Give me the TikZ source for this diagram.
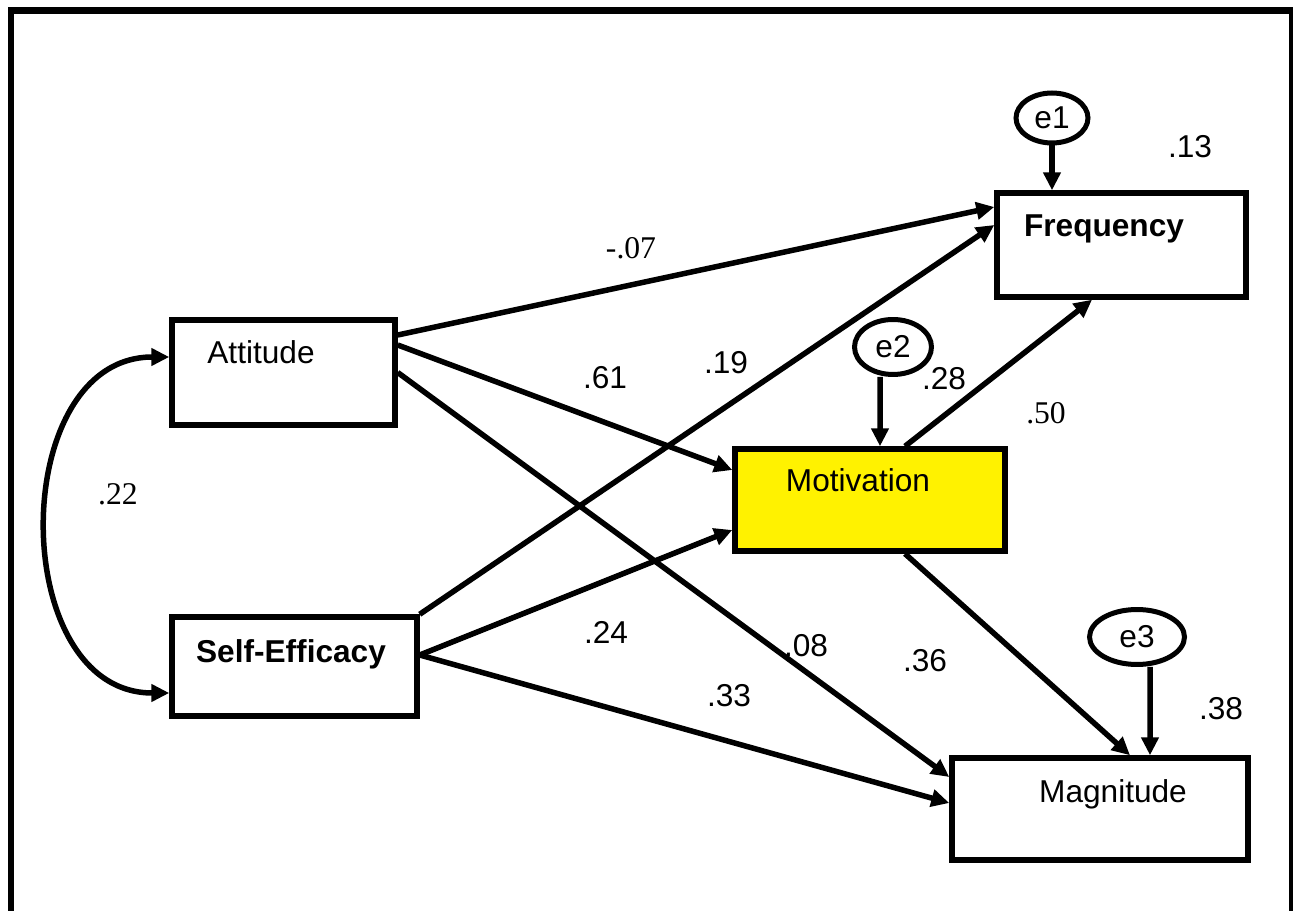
\documentclass[tikz,border=0pt]{standalone}
\usepackage{fontspec}
\setmainfont{Liberation Sans}
\newfontfamily\seriffont{Liberation Serif}
\usetikzlibrary{arrows.meta,shapes.geometric}

\begin{document}
\begin{tikzpicture}[x=0.02cm,y=-0.02cm,
    var/.style={draw, line width=0.11cm, inner sep=0pt},
    err/.style={ellipse, draw, line width=0.1cm, inner sep=0pt, font=\fontsize{18}{21}\selectfont},
    varname/.style={inner sep=0pt, anchor=base, font=\fontsize{18}{21}\selectfont},
    coef/.style={inner sep=0pt, font=\fontsize{18}{21}\selectfont},
    coefserif/.style={inner sep=0pt, font=\seriffont\fontsize{18}{21}\selectfont},
    effect/.style={line width=0.11cm, -{Triangle[length=0.36cm,width=0.34cm]}}]
    \useasboundingbox (0,0) rectangle (1294,911);
    % frame
    \draw[line width=0.13cm] (11,911) -- (11,10.5) -- (1293,10.5);
    \draw[line width=0.08cm] (1291,10.5) -- (1291,911);

    % observed variables
    \node[var, minimum width=4.46cm, minimum height=2.1cm] (att) at (283.5,372.5) {};
    \node[varname] (attname) at (261,364) {Attitude};
    \node[var, minimum width=4.9cm, minimum height=1.98cm] (se) at (294.5,666.5) {};
    \node[varname, font=\fontsize{18}{21}\selectfont\bfseries] (sename) at (291,662) {Self-Efficacy};
    \node[var, fill=yellow, minimum width=5.4cm, minimum height=2.04cm] (mot) at (870,500) {};
    \node[varname] (motname) at (858,492) {Motivation};
    \node[var, minimum width=4.98cm, minimum height=2.08cm] (fre) at (1121.5,245) {};
    \node[varname, font=\fontsize{18}{21}\selectfont\bfseries] (frename) at (1104,237) {Frequency};
    \node[var, minimum width=5.92cm, minimum height=2.04cm] (mag) at (1100,809) {};
    \node[varname] (magname) at (1113,802) {Magnitude};

    % errors
    \node[err, minimum width=1.44cm, minimum height=1cm] (e1) at (1052,118) {e1};
    \node[err, minimum width=1.54cm, minimum height=1.1cm] (e2) at (893,347) {e2};
    \node[err, minimum width=1.9cm, minimum height=1.1cm] (e3) at (1137,637) {e3};

    % paths
    \draw[effect] ([yshift=0.75cm]att.east) -- ([yshift=0.76cm]fre.west);
    \draw[effect] ([yshift=0.55cm]att.east) -- ([yshift=0.6cm]mot.west);
    \draw[effect] (att.east) -- ([yshift=0.64cm]mag.west);
    \draw[effect] (se.north east) -- ([yshift=0.4cm]fre.west);
    \draw[effect] ([yshift=0.23cm]se.east) -- ([yshift=-0.6cm]mot.west);
    \draw[effect] ([yshift=0.23cm]se.east) -- ([yshift=0.12cm]mag.west);
    \draw[effect] ([xshift=0.7cm]mot.north) -- ([xshift=-0.59cm]fre.south);
    \draw[effect] ([xshift=0.7cm]mot.south) -- ([xshift=0.6cm]mag.north);
    \draw[effect] (e1.south) -- (e1.south |- fre.north);
    \draw[effect] ([xshift=-0.26cm]e2.south) -- ([xshift=0.2cm]mot.north);
    \draw[effect] ([xshift=0.26cm]e3.south) -- ([xshift=1cm]mag.north);
    \draw[line width=0.11cm, {Triangle[length=0.36cm,width=0.34cm]}-{Triangle[length=0.36cm,width=0.34cm]}]
        ([yshift=0.31cm]att.west) .. controls +(-3.25cm,0) and +(-3.25cm,0) .. ([yshift=-0.53cm]se.west);

    % estimates
    \node[coefserif] (c22) at (118,494) {.22};
    \node[coefserif] (c07) at (631,248) {-.07};
    \node[coef] (c61) at (605,378) {.61};
    \node[coef] (c19) at (726,363) {.19};
    \node[coef] (c28) at (944,379) {.28};
    \node[coefserif] (c50) at (1046,413) {.50};
    \node[coef] (c13) at (1190,147) {.13};
    \node[coef] (c24) at (606,632) {.24};
    \node[coef] (c08) at (806,646) {.08};
    \node[coef] (c36) at (925,661) {.36};
    \node[coef] (c33) at (729,696) {.33};
    \node[coef] (c38) at (1221,709) {.38};
\end{tikzpicture}
\end{document}
